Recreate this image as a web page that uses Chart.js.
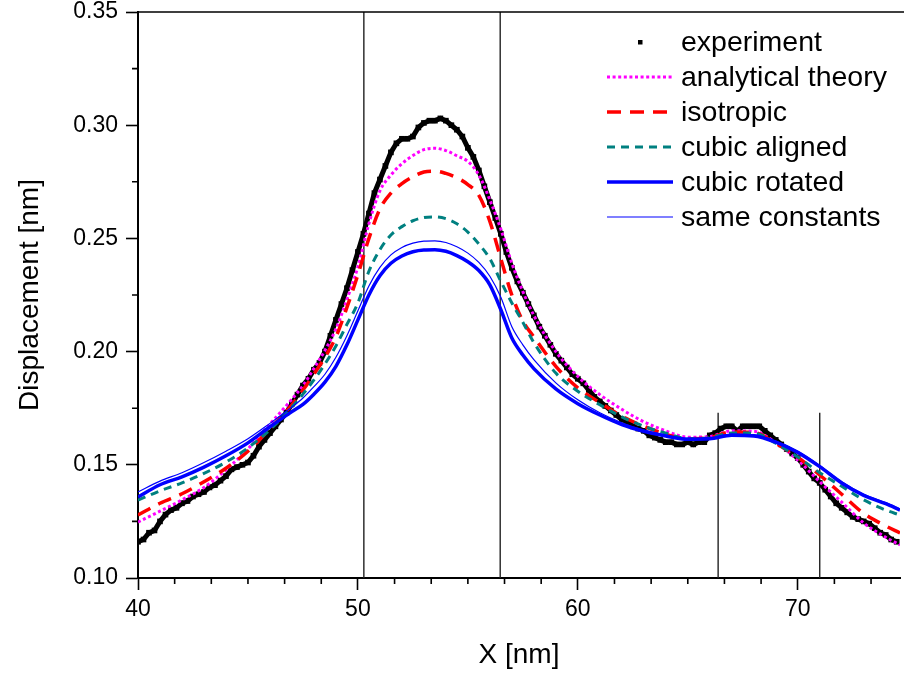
<!DOCTYPE html>
<html>
<head>
<meta charset="utf-8">
<script src="https://cdn.jsdelivr.net/npm/chart.js@4.4.1/dist/chart.umd.min.js"></script>
<style>
  html, body { margin: 0; padding: 0; background: #fff; overflow: hidden; }
  canvas { display: block; }
</style>
</head>
<body>
<canvas id="dispChart" width="904" height="675"></canvas>
<script>
// experiment (black squares)
const expX = [40,40.25,40.5,40.75,41,41.25,41.5,41.75,42,42.25,42.5,42.75,43,43.25,43.5,43.75,44,44.25,44.5,44.75,
  45,45.25,45.5,45.75,46,46.25,46.5,46.75,47,47.25,47.5,47.75,48,48.25,48.5,48.75,49,49.25,49.5,49.75,
  50,50.25,50.5,50.75,51,51.25,51.5,51.75,52,52.25,52.5,52.75,53,53.25,53.5,53.75,54,54.25,54.5,54.75,
  55,55.25,55.5,55.75,56,56.25,56.5,56.75,57,57.25,57.5,57.75,58,58.25,58.5,58.75,59,59.25,59.5,59.75,
  60,60.25,60.5,60.75,61,61.25,61.5,61.75,62,62.25,62.5,62.75,63,63.25,63.5,63.75,64,64.25,64.5,64.75,
  65,65.25,65.5,65.75,66,66.25,66.5,66.75,67,67.25,67.5,67.75,68,68.25,68.5,68.75,69,69.25,69.5,69.75,
  70,70.25,70.5,70.75,71,71.25,71.5,71.75,72,72.25,72.5,72.75,73,73.25,73.5,73.75,74,74.25,74.5];
const expY = [0.116,0.117,0.120,0.121,0.125,0.128,0.130,0.131,0.133,0.134,0.136,0.137,0.138,0.140,0.141,0.143,0.145,0.148,0.149,0.150,
  0.151,0.154,0.158,0.161,0.164,0.167,0.170,0.173,0.177,0.181,0.185,0.188,0.192,0.195,0.200,0.207,0.214,0.221,0.228,0.236,
  0.244,0.252,0.261,0.270,0.276,0.282,0.288,0.292,0.294,0.294,0.295,0.299,0.301,0.302,0.302,0.303,0.302,0.300,0.298,0.295,
  0.290,0.286,0.280,0.273,0.266,0.259,0.252,0.244,0.237,0.231,0.226,0.221,0.216,0.211,0.207,0.203,0.199,0.196,0.193,0.190,
  0.188,0.186,0.183,0.180,0.178,0.176,0.174,0.172,0.170,0.169,0.167,0.166,0.165,0.163,0.162,0.161,0.160,0.160,0.159,0.159,
  0.160,0.159,0.160,0.160,0.163,0.164,0.166,0.167,0.167,0.165,0.167,0.167,0.167,0.167,0.165,0.163,0.161,0.159,0.157,0.155,
  0.153,0.150,0.147,0.144,0.142,0.139,0.136,0.133,0.131,0.129,0.127,0.126,0.125,0.124,0.122,0.120,0.119,0.117,0.116];

// simulations, shared x grid
const simX = [40,41,42,43,44,45,46,47,47.5,48,48.5,49,49.5,50,50.5,51,51.5,52,52.5,53,53.5,54,54.5,55,55.5,56,56.5,57,57.5,58,
  59,60,61,62,63,64,65,66,67,68,69,70,71,72,73,74,74.65];
const analytical = [0.1247,0.1295,0.1345,0.1400,0.1478,0.1570,0.1680,0.1790,0.1850,0.1925,0.2005,0.2100,0.2230,0.2375,0.2565,0.2710,0.2780,0.2830,0.2866,0.2892,
  0.2898,0.2888,0.2865,0.2840,0.2780,0.2670,0.2540,0.2390,0.2265,0.2160,0.2000,0.1890,0.1810,0.1745,0.1690,0.1650,0.1622,0.1625,0.1650,0.1648,
  0.1598,0.1521,0.1425,0.1335,0.1243,0.1180,0.1146];
const isotropic = [0.1278,0.1330,0.1372,0.1425,0.1485,0.1560,0.1660,0.1765,0.1830,0.1900,0.1975,0.2065,0.2195,0.2340,0.2500,0.2630,0.2700,0.2742,0.2772,0.2793,
  0.2797,0.2787,0.2768,0.2738,0.2690,0.2575,0.2410,0.2250,0.2135,0.2065,0.1935,0.1840,0.1775,0.1715,0.1670,0.1635,0.1615,0.1620,0.1645,0.1643,
  0.1595,0.1534,0.1455,0.1370,0.1285,0.1230,0.1199];
const cubicAligned = [0.1344,0.1385,0.1420,0.1462,0.1512,0.1575,0.1655,0.1755,0.1812,0.1875,0.1945,0.2025,0.2120,0.2215,0.2355,0.2450,0.2515,0.2552,0.2578,0.2592,
  0.2595,0.2587,0.2565,0.2528,0.2475,0.2410,0.2310,0.2215,0.2130,0.2040,0.1905,0.1825,0.1765,0.1712,0.1670,0.1640,0.1615,0.1620,0.1640,0.1640,
  0.1595,0.1534,0.1465,0.1405,0.1345,0.1300,0.1278];
const cubicRotated = [0.1358,0.1412,0.1447,0.1490,0.1540,0.1597,0.1668,0.1735,0.1767,0.1812,0.1865,0.1935,0.2030,0.2140,0.2250,0.2335,0.2390,0.2422,0.2441,0.2449,
  0.2450,0.2443,0.2424,0.2397,0.2358,0.2295,0.2185,0.2060,0.1985,0.1925,0.1835,0.1770,0.1720,0.1678,0.1648,0.1627,0.1613,0.1615,0.1630,0.1627,
  0.1600,0.1555,0.1492,0.1420,0.1365,0.1328,0.1300];
const sameConstants = [0.1380,0.1428,0.1465,0.1510,0.1560,0.1615,0.1683,0.1755,0.1795,0.1845,0.1900,0.1975,0.2070,0.2180,0.2290,0.2372,0.2427,0.2460,0.2479,0.2488,
  0.2489,0.2482,0.2463,0.2435,0.2394,0.2333,0.2240,0.2110,0.2030,0.1965,0.1862,0.1787,0.1730,0.1686,0.1653,0.1631,0.1617,0.1620,0.1636,0.1633,
  0.1605,0.1560,0.1497,0.1425,0.1370,0.1333,0.1305];

// vertical marker lines
const markX = [50.27, 56.47, 66.38, 71.0];
const markTop = [0.35, 0.35, 0.173, 0.173];

const xTicks = [40, 50, 60, 70];
const yTicks = [0.10, 0.15, 0.20, 0.25, 0.30, 0.35];

const FONT = '"Liberation Sans", Arial, Helvetica, sans-serif';

function pts(xs, ys) { return xs.map((x, i) => ({ x: x, y: ys[i] })); }

const datasets = [];
markX.forEach((mx, i) => {
  datasets.push({
    label: '', data: [{ x: mx, y: 0.10 }, { x: mx, y: markTop[i] }],
    borderColor: '#222', borderWidth: 1.4, pointRadius: 0, order: 9, legend: false
  });
});
datasets.push({
  label: 'experiment', data: pts(expX, expY), isMarker: true,
  borderColor: '#000', borderWidth: 5, tension: 0,
  pointStyle: 'rect', pointRadius: 4, pointBorderWidth: 0,
  pointBackgroundColor: '#000', order: 6
});
datasets.push({ label: 'analytical theory', data: pts(simX, analytical), borderColor: '#ff00ff', borderWidth: 3, borderDash: [3, 2.6], order: 5 });
datasets.push({ label: 'isotropic', data: pts(simX, isotropic), borderColor: '#ff0000', borderWidth: 3.5, borderDash: [14, 9], order: 4 });
datasets.push({ label: 'cubic aligned', data: pts(simX, cubicAligned), borderColor: '#008080', borderWidth: 3, borderDash: [8, 6], order: 3 });
datasets.push({ label: 'cubic rotated', data: pts(simX, cubicRotated), borderColor: '#0000ff', borderWidth: 3.5, order: 2 });
datasets.push({ label: 'same constants', data: pts(simX, sameConstants), borderColor: '#0000ff', borderWidth: 1.2, order: 1 });

datasets.forEach(d => {
  d.fill = false;
  if (!d.isMarker) {
    d.pointRadius = 0;
    if (d.legend !== false) d.cubicInterpolationMode = 'monotone';
  }
});

// minor ticks, top frame line and the legend box
const extras = {
  id: 'extras',
  afterDraw(chart) {
    const { ctx, chartArea: a, scales } = chart;
    const xs = scales.x, ys = scales.y;
    ctx.save();
    ctx.strokeStyle = '#000';
    ctx.lineWidth = 1.6;
    ctx.beginPath();
    ctx.moveTo(a.left, a.top);
    ctx.lineTo(chart.width, a.top);
    for (let k = 1; k < 24; k++) {
      const v = 40 + k * 10 / 6;
      if (k % 6 === 0 || v > xs.max) continue;
      const px = xs.getPixelForValue(v);
      ctx.moveTo(px, a.bottom);
      ctx.lineTo(px, a.bottom + 6);
    }
    for (let k = 0; k < 5; k++) {
      const py = ys.getPixelForValue(0.125 + k * 0.05);
      ctx.moveTo(a.left, py);
      ctx.lineTo(a.left - 6, py);
    }
    ctx.stroke();

    ctx.font = '28.5px ' + FONT;
    ctx.textBaseline = 'middle';
    ctx.fillStyle = '#000';
    const items = chart.data.datasets.filter(d => d.legend !== false);
    items.forEach((d, i) => {
      const y = 42 + i * 35;
      if (d.isMarker) {
        ctx.fillStyle = '#000';
        ctx.fillRect(638, y - 2, 4.5, 4.5);
      } else {
        ctx.save();
        ctx.strokeStyle = d.borderColor;
        ctx.lineWidth = d.borderWidth;
        ctx.setLineDash(d.borderDash || []);
        ctx.beginPath();
        ctx.moveTo(607, y);
        ctx.lineTo(673, y);
        ctx.stroke();
        ctx.restore();
      }
      ctx.fillStyle = '#000';
      ctx.fillText(d.label, 681, y + 1);
    });
    ctx.restore();
  }
};

new Chart(document.getElementById('dispChart'), {
  type: 'line',
  data: { datasets: datasets },
  options: {
    responsive: false,
    devicePixelRatio: 1,
    animation: false,
    layout: { padding: { top: 12, right: 0, left: 0, bottom: 0 } },
    plugins: { legend: { display: false }, tooltip: { enabled: false } },
    scales: {
      x: {
        type: 'linear', min: 40, max: 74.65,
        afterBuildTicks: (s) => { s.ticks = xTicks.map(v => ({ value: v })); },
        afterFit: (s) => { s.height = 97; s.paddingLeft = 0; s.paddingRight = 0; },
        border: { display: true, color: '#000', width: 2 },
        grid: { drawOnChartArea: false, drawTicks: true, tickLength: 12, tickColor: '#000', tickWidth: 1.6 },
        ticks: { color: '#000', padding: 6, maxRotation: 0, font: { family: FONT, size: 23 } },
        title: { display: true, text: 'X [nm]', color: '#000', padding: { bottom: 3, top: 0 }, font: { family: FONT, size: 28 } }
      },
      y: {
        type: 'linear', min: 0.10, max: 0.35,
        afterBuildTicks: (s) => { s.ticks = yTicks.map(v => ({ value: v })); },
        afterFit: (s) => { s.width = 138; s.paddingTop = 0; s.paddingBottom = 0; },
        border: { display: true, color: '#000', width: 2 },
        grid: { drawOnChartArea: false, drawTicks: true, tickLength: 12, tickColor: '#000', tickWidth: 1.6 },
        ticks: { color: '#000', padding: 8, font: { family: FONT, size: 23 }, callback: (v) => Number(v).toFixed(2) },
        title: { display: true, text: 'Displacement [nm]', color: '#000', padding: { top: 13, bottom: 0 }, font: { family: FONT, size: 28 } }
      }
    }
  },
  plugins: [extras]
});
</script>
</body>
</html>
